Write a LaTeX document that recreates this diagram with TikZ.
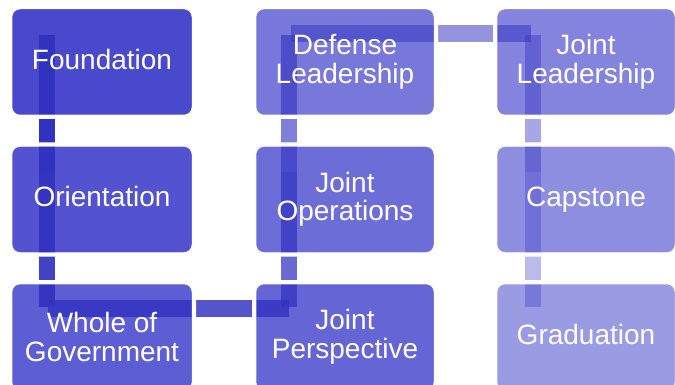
\documentclass[tikz,border=0pt]{standalone}
\usepackage{fontspec}
\setmainfont{Liberation Sans}
\definecolor{boxbase}{RGB}{50,50,200}
\definecolor{linkbase}{RGB}{50,50,192}
\begin{document}
\begin{tikzpicture}[x=1pt,y=-1pt,
  box/.style={rounded corners=8pt, minimum width=178pt, minimum height=106pt,
    inner sep=0pt, outer sep=0pt, fill=boxbase, draw=none},
  wide/.style={minimum width=180pt},
  link/.style={draw=linkbase, line width=16.5pt},
  halo/.style={draw=white, line width=4pt, rounded corners=10pt},
  rim/.style={draw=white, draw opacity=.35, line width=1pt, rounded corners=8pt},
  txt/.style={text=white, align=center, inner sep=0pt,
    font=\fontsize{28}{28.5}\selectfont},
  oneline/.style={txt, anchor=base}]
\useasboundingbox (0,0) rectangle (675,385);
\clip (0,0) rectangle (675,385);
% boxes
\node[box, wide, fill opacity=.89] (F)  at (102,62)    {};
\node[box, wide, fill opacity=.84] (O)  at (102,199.5) {};
\node[box, wide, fill opacity=.79] (W)  at (102,337)   {};
\node[box, fill opacity=.75]       (JP) at (345,337)   {};
\node[box, fill opacity=.71]       (JO) at (345,199.5) {};
\node[box, fill opacity=.66]       (DL) at (345,62)    {};
\node[box, fill opacity=.60]       (JL) at (586,62)    {};
\node[box, fill opacity=.55]       (C)  at (586,199.5) {};
\node[box, fill opacity=.49]       (G)  at (586,337)   {};
% connector points
\coordinate (p1)  at (47,35);
\coordinate (p2)  at (47,172);
\coordinate (p3)  at (47,307);
\coordinate (p3b) at (48,308.5);
\coordinate (p4)  at (289,308.5);
\coordinate (p4b) at (289,307);
\coordinate (p5)  at (289,172);
\coordinate (p6)  at (289,35);
\coordinate (p6b) at (291,33.5);
\coordinate (p7)  at (531,33.5);
\coordinate (p7b) at (533,35);
\coordinate (p8)  at (533,172);
\coordinate (p9)  at (533,307);
% connectors
\draw[link, draw opacity=1]   (p1) -- (p2);
\draw[link, draw opacity=.92] (p2) -- (p3);
\draw[link, draw opacity=.83] (p3b) -- (p4);
\draw[link, draw opacity=.73] (p4b) -- (p5);
\draw[link, draw opacity=.62] (p5) -- (p6);
\draw[link, draw opacity=.52] (p6b) -- (p7);
\draw[link, draw opacity=.43] (p7b) -- (p8);
\draw[link, draw opacity=.33] (p8) -- (p9);
% white halos and rims
\foreach \n in {F,O,W,JP,JO,DL,JL,C,G}{
  \draw[halo] ([shift={(-2,-2)}]\n.north west) rectangle ([shift={(2,2)}]\n.south east);
  \draw[rim] (\n.north west) rectangle (\n.south east);
}
% labels
\node[oneline] at ([yshift=-7.5pt]F.center)  {Foundation};
\node[oneline] at ([yshift=-7.5pt]O.center)  {Orientation};
\node[txt] at (W)  {Whole of\\Government};
\node[txt] at (JP) {Joint\\Perspective};
\node[txt] at (JO) {Joint\\Operations};
\node[txt] at (DL) {Defense\\Leadership};
\node[txt] at (JL) {Joint\\Leadership};
\node[oneline] at ([yshift=-7.5pt]C.center)  {Capstone};
\node[oneline] at ([yshift=-7pt]G.center)  {Graduation};
\end{tikzpicture}
\end{document}
